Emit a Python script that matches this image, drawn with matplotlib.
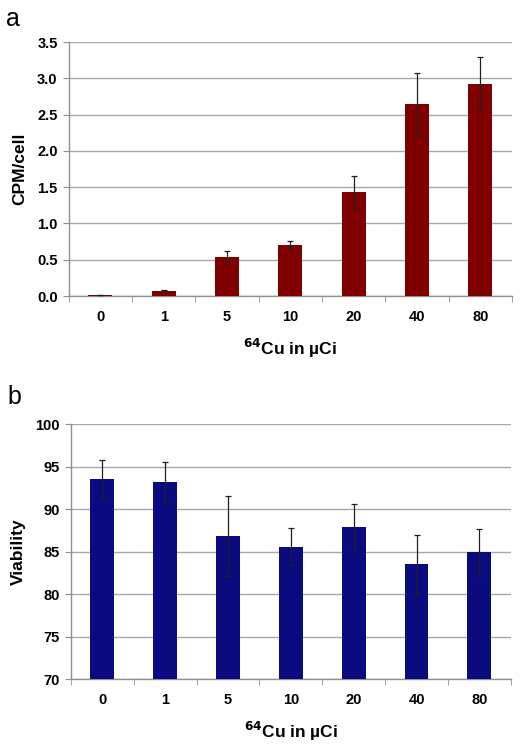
import numpy as np
import matplotlib
matplotlib.use('Agg')
import matplotlib.pyplot as plt

plt.rcParams['font.family'] = ['Liberation Sans', 'DejaVu Sans']

# data
doses = ['0', '1', '5', '10', '20', '40', '80']
cpm = [0.015, 0.073, 0.54, 0.71, 1.44, 2.65, 2.92]
cpm_err = [0.0, 0.005, 0.075, 0.05, 0.22, 0.43, 0.375]
viab = [93.5, 93.2, 86.8, 85.6, 87.9, 83.5, 85.0]
viab_err = [2.25, 2.4, 4.7, 2.15, 2.75, 3.45, 2.7]

fig = plt.figure(figsize=(5.25, 7.47), dpi=100)
ax1 = fig.add_axes([0.131, 0.6037, 0.844, 0.340])
ax2 = fig.add_axes([0.135, 0.091, 0.838, 0.341])

def style(ax, vals, errs, color, ylim, yticks, fmt):
    x = np.arange(len(doses))
    ax.bar(x, [v - ylim[0] for v in vals], bottom=ylim[0], width=0.38, color=color,
           yerr=errs, error_kw=dict(ecolor='#202020', elinewidth=0.9, capsize=2.5, capthick=0.9),
           zorder=3)
    ax.set_xlim(-0.5, len(doses) - 0.5)
    ax.set_ylim(*ylim)
    ax.set_yticks(yticks)
    ax.set_yticklabels([fmt.format(t) for t in yticks], fontweight='bold', fontsize=10.5)
    ax.set_xticks(x)
    ax.set_xticklabels(doses, fontweight='bold', fontsize=10.5)
    ax.set_xticks(np.arange(len(doses) + 1) - 0.5, minor=True)
    ax.tick_params(axis='x', which='major', length=0, pad=10)
    ax.tick_params(axis='x', which='minor', length=4, color='#909090', direction='out')
    ax.tick_params(axis='y', length=4, color='#909090', pad=4)
    for s in ['top', 'right']:
        ax.spines[s].set_visible(False)
    for s in ['left', 'bottom']:
        ax.spines[s].set_color('#909090')
        ax.spines[s].set_linewidth(1.0)
    ax.yaxis.grid(True, color='#a8a8a8', linewidth=1.0, zorder=0)
    ax.set_axisbelow(True)
    ax.set_xlabel('$^{\\mathbf{64}}$Cu in \u00b5Ci', fontweight='bold', fontsize=12.5, labelpad=9)

style(ax1, cpm, cpm_err, '#800000', (0, 3.5), np.arange(0, 3.51, 0.5), '{:.1f}')
ax1.set_ylabel('CPM/cell', fontweight='bold', fontsize=12.5, labelpad=7)

style(ax2, viab, viab_err, '#0b0b80', (70, 100), np.arange(70, 101, 5), '{:.0f}')
ax2.set_ylabel('Viability', fontweight='bold', fontsize=12.5, labelpad=7)

fig.text(0.012, 0.975, 'a', fontsize=18, va='center')
fig.text(0.014, 0.468, 'b', fontsize=18, va='center')

plt.savefig('out.png', dpi=100)
